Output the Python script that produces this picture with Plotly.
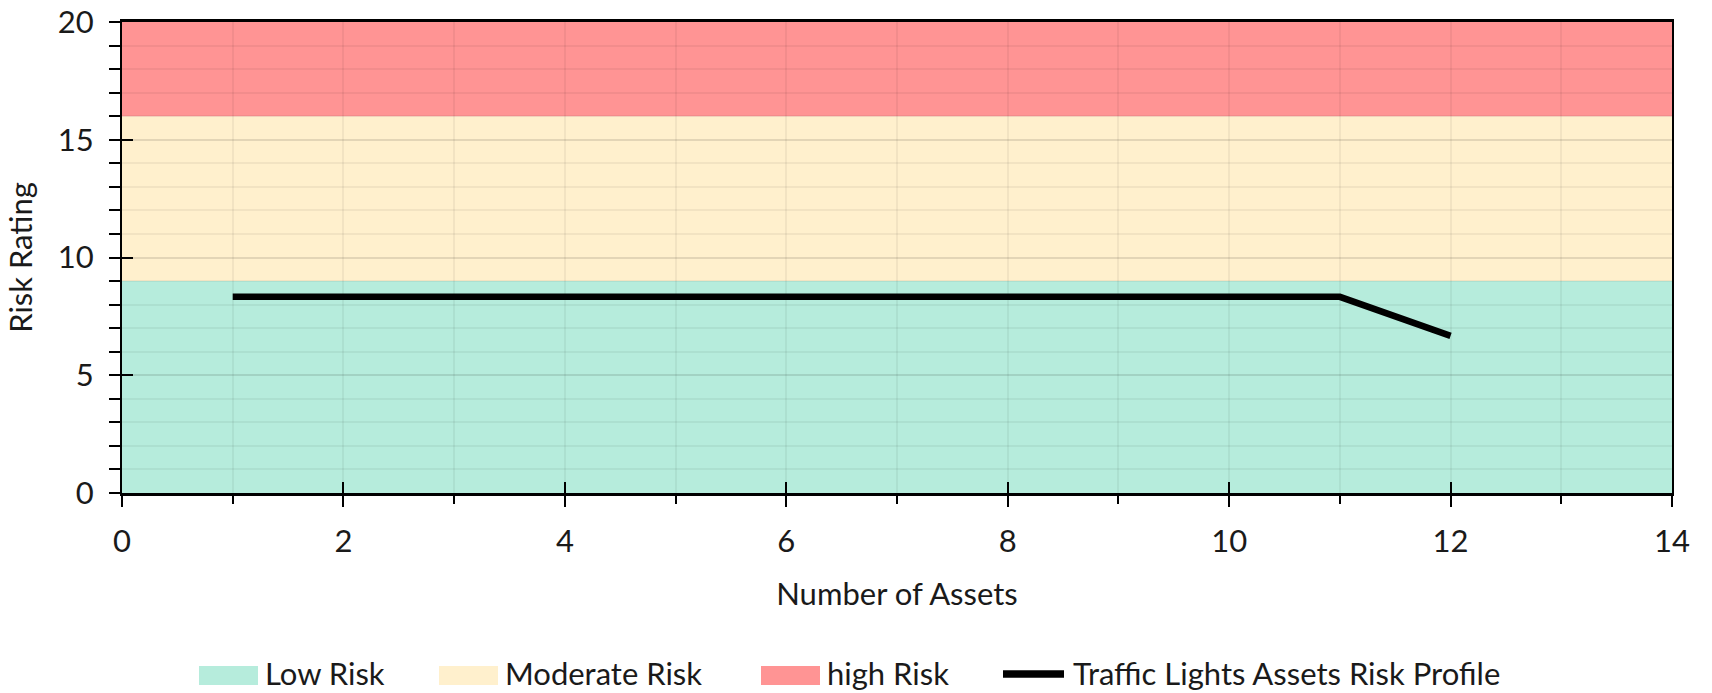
import plotly.graph_objects as go

# Risk bands (rating ranges) and their names
band_names = ["Low Risk", "Moderate Risk", "high Risk"]
band_lower = [0, 9, 16]
band_upper = [9, 16, 20]
band_colors = ["#B6ECDC", "#FFF0CD", "#FF9494"]

# Risk profile series
assets = [1, 2, 3, 4, 5, 6, 7, 8, 9, 10, 11, 12]
risk_rating = [8.33, 8.33, 8.33, 8.33, 8.33, 8.33, 8.33, 8.33, 8.33, 8.33, 8.33, 6.67]
series_name = "Traffic Lights Assets Risk Profile"

x_range = [0, 14]
y_range = [0, 20]

W, H = 1712, 693
L, R, T, B = 122, 40, 22, 200
FONT = "Lato"
FS = 31

fig = go.Figure()

fig.add_trace(go.Scatter(
    x=assets, y=risk_rating, mode="lines", name=series_name,
    line=dict(color="black", width=6.5), showlegend=False,
))

# background bands, under the gridlines
for lo, hi, col in zip(band_lower, band_upper, band_colors):
    fig.add_shape(type="rect", xref="x domain", yref="y", x0=0, x1=1, y0=lo, y1=hi,
                  fillcolor=col, line_width=0, layer="below")

grid_minor = "rgba(0,0,0,0.05)"
grid_major = "rgba(0,0,0,0.11)"

fig.update_layout(
    width=W, height=H,
    margin=dict(l=L, r=R, t=T, b=B),
    paper_bgcolor="white", plot_bgcolor="white",
    font=dict(family=FONT, size=FS, color="#1a1a1a"),
    showlegend=False,
    xaxis=dict(
        range=x_range, dtick=2, tick0=0, automargin=False,
        showgrid=True, gridcolor=grid_minor, gridwidth=1.5,
        ticks="outside", ticklen=11, tickwidth=2, tickcolor="black",
        minor=dict(dtick=1, ticks="outside", ticklen=8, tickwidth=2, tickcolor="black",
                   showgrid=True, gridcolor=grid_minor, gridwidth=1.5),
        showline=True, linecolor="black", linewidth=3, mirror=True,
        zeroline=False, ticklabelstandoff=8,
        title=dict(text="Number of Assets", standoff=26, font=dict(size=FS)),
    ),
    yaxis=dict(
        range=y_range, dtick=5, tick0=0, automargin=False,
        showgrid=True, gridcolor=grid_major, gridwidth=1.5,
        ticks="outside", ticklen=11, tickwidth=2, tickcolor="black",
        minor=dict(dtick=1, ticks="outside", ticklen=11, tickwidth=2, tickcolor="black",
                   showgrid=True, gridcolor=grid_minor, gridwidth=1.5),
        showline=True, linecolor="black", linewidth=2, mirror=True,
        zeroline=False, ticklabelstandoff=9,
        title=dict(text="Risk Rating", standoff=16, font=dict(size=FS)),
    ),
    # overlay axes for the inner half of the major tick marks
    xaxis2=dict(overlaying="x", matches="x", range=x_range, dtick=2, tick0=0, automargin=False,
                ticks="inside", ticklen=11, tickwidth=2, tickcolor="black",
                showticklabels=False, showgrid=False, zeroline=False, showline=False),
    yaxis2=dict(overlaying="y", matches="y", range=y_range, dtick=5, tick0=0, automargin=False,
                ticks="inside", ticklen=11, tickwidth=2, tickcolor="black",
                showticklabels=False, showgrid=False, zeroline=False, showline=False),
)

fig.add_trace(go.Scatter(x=[None], y=[None], xaxis="x2", yaxis="y2", showlegend=False,
                         hoverinfo="skip"))

# legend row below the plot
pw, ph = W - L - R, H - T - B


def px_x(p):
    return (p - L) / pw


def px_y(p):
    return (H - B - p) / ph


text_y = 673
sw_y = 675.5
leg_fs = 31
sw_w, sw_h = 59, 19
leg_x = [199, 439, 761]
for name, col, x0 in zip(band_names, band_colors, leg_x):
    fig.add_shape(type="rect", xref="paper", yref="paper",
                  x0=px_x(x0), x1=px_x(x0 + sw_w),
                  y0=px_y(sw_y - sw_h / 2), y1=px_y(sw_y + sw_h / 2),
                  fillcolor=col, line_width=0)
    fig.add_annotation(text=name, xref="paper", yref="paper",
                       x=px_x(x0 + sw_w + 5), y=px_y(text_y), xanchor="left", yanchor="middle",
                       showarrow=False, font=dict(size=leg_fs))

lx0 = 1003
fig.add_shape(type="line", xref="paper", yref="paper",
              x0=px_x(lx0), x1=px_x(lx0 + 61), y0=px_y(674), y1=px_y(674),
              line=dict(color="black", width=7.5))
fig.add_annotation(text=series_name, xref="paper", yref="paper",
                   x=px_x(lx0 + 68), y=px_y(text_y), xanchor="left", yanchor="middle",
                   showarrow=False, font=dict(size=leg_fs))

fig.write_html("out.html")
